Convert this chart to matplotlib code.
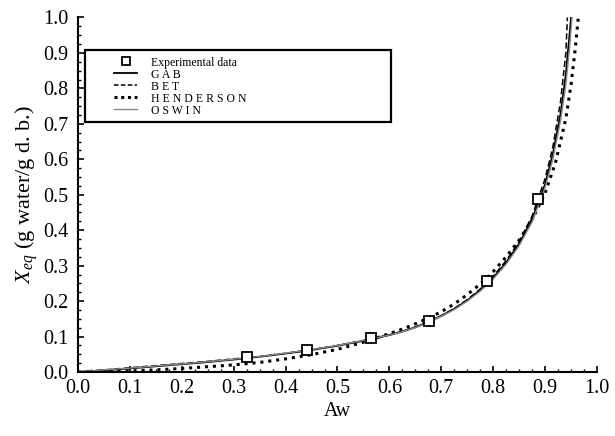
import numpy as np
import matplotlib.pyplot as plt
from matplotlib.lines import Line2D
from matplotlib.patches import Rectangle
from matplotlib.ticker import MultipleLocator

plt.rcParams["font.family"] = ["Liberation Serif", "DejaVu Serif"]
plt.rcParams["mathtext.fontset"] = "custom"
plt.rcParams["mathtext.it"] = "Liberation Serif:italic"
plt.rcParams["mathtext.rm"] = "Liberation Serif"

# experimental points
aw_exp = [0.325, 0.442, 0.565, 0.677, 0.789, 0.887]
x_exp = [0.042, 0.061, 0.097, 0.143, 0.258, 0.487]

# model curves
aw_gab = [0.0, 0.05, 0.1, 0.15, 0.2, 0.25, 0.3, 0.35, 0.4, 0.45, 0.5, 0.55, 0.6,
          0.625, 0.65, 0.675, 0.7, 0.725, 0.75, 0.775, 0.8, 0.825, 0.85, 0.875,
          0.9, 0.915, 0.93, 0.94, 0.947, 0.95]
x_gab = [0.0, 0.005, 0.010, 0.016, 0.022, 0.028, 0.035, 0.043, 0.052, 0.062, 0.074,
         0.088, 0.104, 0.114, 0.126, 0.141, 0.158, 0.178, 0.202, 0.231, 0.266, 0.309,
         0.362, 0.43, 0.53, 0.615, 0.73, 0.84, 0.95, 1.0]

aw_bet = [0.0, 0.05, 0.1, 0.15, 0.2, 0.25, 0.3, 0.35, 0.4, 0.45, 0.5, 0.55, 0.6,
          0.625, 0.65, 0.675, 0.7, 0.725, 0.75, 0.775, 0.8, 0.825, 0.85, 0.875,
          0.9, 0.915, 0.93, 0.94, 0.943]
x_bet = [0.0, 0.006, 0.012, 0.018, 0.024, 0.030, 0.037, 0.044, 0.053, 0.063, 0.075,
         0.089, 0.105, 0.115, 0.127, 0.142, 0.159, 0.179, 0.204, 0.234, 0.270, 0.314,
         0.368, 0.44, 0.545, 0.635, 0.765, 0.9, 1.0]

aw_hen = [0.0, 0.05, 0.1, 0.15, 0.2, 0.25, 0.3, 0.35, 0.4, 0.45, 0.5, 0.55, 0.6,
          0.625, 0.65, 0.675, 0.7, 0.725, 0.75, 0.775, 0.8, 0.825, 0.85, 0.875,
          0.9, 0.92, 0.94, 0.95, 0.958, 0.964]
x_hen = [0.0, 0.001, 0.003, 0.006, 0.010, 0.015, 0.020, 0.027, 0.037, 0.049, 0.064,
         0.084, 0.108, 0.121, 0.136, 0.152, 0.170, 0.192, 0.218, 0.248, 0.283, 0.325,
         0.372, 0.43, 0.505, 0.59, 0.715, 0.81, 0.91, 1.0]

aw_osw = [0.0, 0.05, 0.1, 0.15, 0.2, 0.25, 0.3, 0.35, 0.4, 0.45, 0.5, 0.55, 0.6,
          0.625, 0.65, 0.675, 0.7, 0.725, 0.75, 0.775, 0.8, 0.825, 0.85, 0.875,
          0.9, 0.915, 0.93, 0.94, 0.947, 0.952]
x_osw = [0.0, 0.006, 0.011, 0.017, 0.023, 0.029, 0.036, 0.044, 0.053, 0.063, 0.075,
         0.089, 0.104, 0.114, 0.125, 0.140, 0.157, 0.176, 0.200, 0.228, 0.262, 0.304,
         0.356, 0.423, 0.52, 0.6, 0.71, 0.81, 0.91, 1.0]

legend_labels = ["Experimental data", "G A B", "B E T", "H E N D E R S O N", "O S W I N"]


def main():
    fig = plt.figure(figsize=(6.15, 4.36), dpi=100)
    ax = fig.add_axes([0.1268, 0.1468, 0.8439, 0.8131])

    ax.plot(aw_gab, x_gab, color="black", lw=1.3)
    ax.plot(aw_bet, x_bet, color="black", lw=1.1, dashes=(4, 2))
    ax.plot(aw_hen, x_hen, color="black", lw=2.2, dashes=(1, 1.6))
    ax.plot(aw_osw, x_osw, color="#8a8a8a", lw=1.0)
    ax.plot(aw_exp, x_exp, ls="none", marker="s", ms=7, mfc="white", mec="black",
            mew=1.3, zorder=5)

    ax.set_xlim(0, 1)
    ax.set_ylim(0, 1)
    ax.xaxis.set_major_locator(MultipleLocator(0.1))
    ax.yaxis.set_major_locator(MultipleLocator(0.1))
    ax.xaxis.set_minor_locator(MultipleLocator(0.025))
    ax.yaxis.set_minor_locator(MultipleLocator(0.025))
    ax.xaxis.set_major_formatter(plt.FormatStrFormatter("%.1f"))
    ax.yaxis.set_major_formatter(plt.FormatStrFormatter("%.1f"))
    ax.tick_params(which="major", direction="in", length=4, width=1.2, labelsize=14.5)
    ax.tick_params(which="minor", direction="in", length=2.5, width=1.0)
    ax.tick_params(axis="x", pad=5)
    ax.tick_params(axis="y", pad=7)

    for side in ["top", "right"]:
        ax.spines[side].set_visible(False)
    for side in ["left", "bottom"]:
        ax.spines[side].set_linewidth(1.5)

    ax.set_xlabel("Aw", fontsize=14.5, labelpad=3)
    ax.set_ylabel(r"$X_{eq}$ (g water/g d. b.)", fontsize=16, labelpad=2)

    # legend frame
    ax.add_patch(Rectangle((0.0135, 0.705), 0.59, 0.203, transform=ax.transAxes,
                           fill=False, lw=1.6, ec="black", zorder=6))

    handles = [
        Line2D([], [], ls="none", marker="s", ms=6, mfc="white", mec="black", mew=1.3),
        Line2D([], [], color="black", lw=1.3),
        Line2D([], [], color="black", lw=1.1, dashes=(3, 1.5)),
        Line2D([], [], color="black", lw=2.2, dashes=(1, 1.2)),
        Line2D([], [], color="#8a8a8a", lw=1.0),
    ]
    ax.legend(handles, legend_labels, loc="center left", bbox_to_anchor=(0.07, 0.805),
              frameon=False, fontsize=8.5, borderpad=0, borderaxespad=0,
              labelspacing=0.0, handlelength=1.9, handletextpad=1.2)

    fig.savefig("out.png", dpi=100)


if __name__ == "__main__":
    main()
